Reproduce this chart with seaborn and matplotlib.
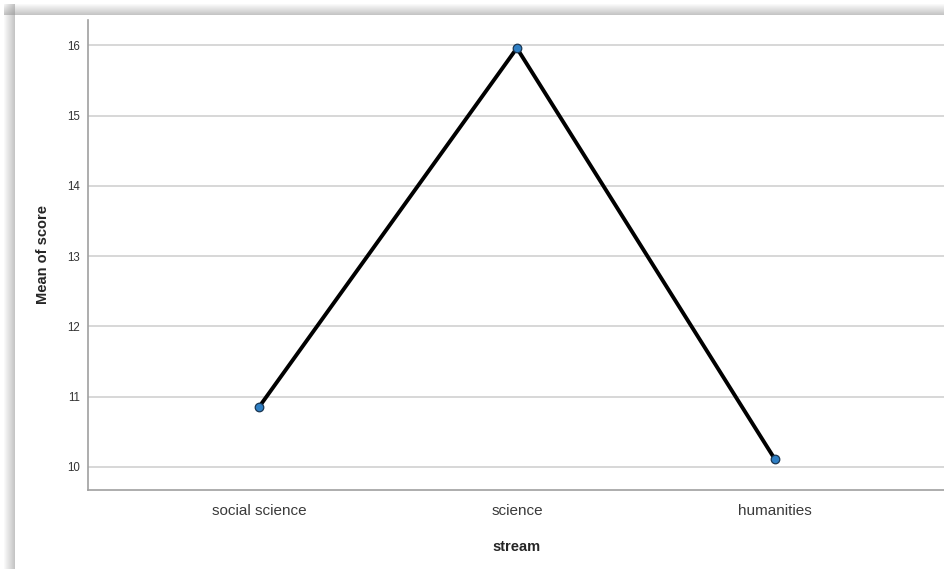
import numpy as np
import pandas as pd
import seaborn as sns
import matplotlib.pyplot as plt
from matplotlib.patches import Rectangle

streams = ["social science", "science", "humanities"]
mean_score = [10.85, 15.96, 10.11]
y_ticks = [10, 11, 12, 13, 14, 15, 16]

df = pd.DataFrame({"stream": streams, "score": mean_score})

sns.set_style("white")
plt.rcParams["font.family"] = ["Liberation Sans", "DejaVu Sans"]

fig = plt.figure(figsize=(9.45, 5.69), dpi=100)

# screenshot-like shadow on the top and left edges
W, H = 945, 569
for i in range(11):
    a = 0.05 + 0.045 * i
    fig.patches.append(Rectangle(((4 + i) / W, 0), 1 / W, (H - 4) / H,
                                 transform=fig.transFigure, color="0.55", alpha=a, lw=0, zorder=-2))
    fig.patches.append(Rectangle((4 / W, (H - 5 - i) / H), 1 - 4 / W, 1 / H,
                                 transform=fig.transFigure, color="0.55", alpha=a, lw=0, zorder=-2))
fig.patches.append(Rectangle((15 / W, 0), 1 - 15 / W, (H - 15) / H,
                             transform=fig.transFigure, color="white", lw=0, zorder=-1))

ax = fig.add_axes([88 / W, 1 - 490 / H, 1 - 88 / W, (490 - 20) / H])

sns.lineplot(data=df, x="stream", y="score", sort=False, color="black",
             linewidth=2.8, ax=ax, zorder=3)
sns.scatterplot(data=df, x="stream", y="score", color="#2f7fc4",
                edgecolor="#1a3550", linewidth=0.9, s=38, ax=ax, zorder=4)

ax.set_xlim(-0.663, 2.66)
ax.set_ylim(9.67, 16.36)
ax.set_yticks(y_ticks)
ax.yaxis.grid(True, color="#d4d4d4", linewidth=1.3)
ax.set_axisbelow(True)

for s in ["top", "right"]:
    ax.spines[s].set_visible(False)
for s in ["left", "bottom"]:
    ax.spines[s].set_color("#a0a0a0")
    ax.spines[s].set_linewidth(1.2)

ax.tick_params(axis="y", length=0, pad=6, labelsize=8.3, labelcolor="#333333")
ax.tick_params(axis="x", length=0, pad=10, labelsize=11, labelcolor="#3a3a3a")

ax.set_ylabel("Mean of score", fontsize=10.5, fontweight="bold", labelpad=12)
ax.set_xlabel("stream", fontsize=10.5, fontweight="bold", labelpad=16)

fig.savefig("out.png", dpi=100)
